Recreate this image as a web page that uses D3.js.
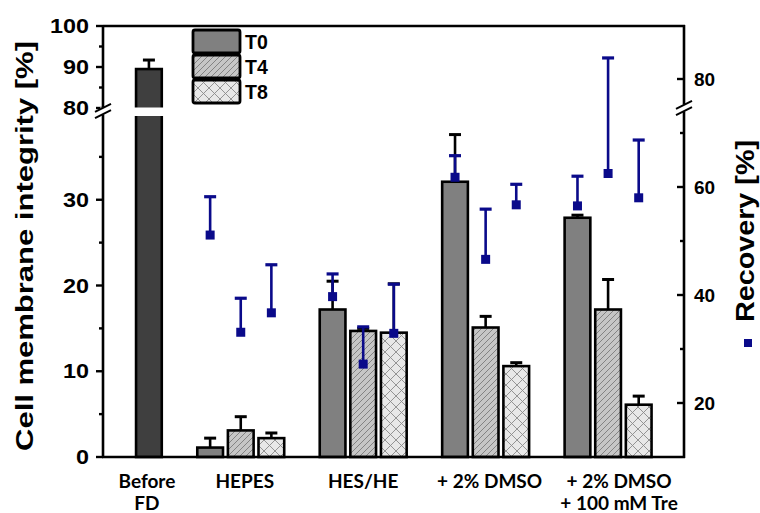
<!DOCTYPE html>
<html>
<head>
<meta charset="utf-8">
<script src="https://cdn.jsdelivr.net/npm/d3@7"></script>
<style>
  html, body { margin: 0; padding: 0; background: #fff; }
  svg { display: block; }
</style>
</head>
<body>
<svg id="chart" width="760" height="513"></svg>
<script>
// ---- data ----
const groups = ["Before FD", "HEPES", "HES/HE", "+ 2% DMSO", "+ 2% DMSO + 100 mM Tre"];
const groupLabelLines = [["Before", "FD"], ["HEPES"], ["HES/HE"], ["+ 2% DMSO"], ["+ 2% DMSO", "+ 100 mM Tre"]];
const timePoints = ["T0", "T4", "T8"];

// cell membrane integrity [%] (mean, upper error)
const integrityBefore = [89.5];
const integrityBeforeErr = [2.2];
const integrityT0 = [1.1, 17.2, 32.1, 27.9];
const integrityT4 = [3.1, 14.7, 15.1, 17.2];
const integrityT8 = [2.2, 14.5, 10.6, 6.1];
const integrityT0Err = [1.1, 3.3, 5.5, 0.3];
const integrityT4Err = [1.6, 0.3, 1.3, 3.5];
const integrityT8Err = [0.6, 5.7, 0.4, 1.0];

// recovery [%] (mean, upper error)
const recoveryT0 = [51.1, 39.7, 61.8, 56.5];
const recoveryT4 = [33.1, 27.2, 46.6, 62.5];
const recoveryT8 = [36.7, 32.9, 56.7, 58.0];
const recoveryT0Err = [7.1, 4.2, 4.0, 5.5];
const recoveryT4Err = [6.3, 6.9, 9.3, 21.4];
const recoveryT8Err = [8.9, 9.1, 3.8, 10.7];

const leftTicksLow = [0, 10, 20, 30];
const leftTicksHigh = [80, 90, 100];
const leftMinor = [5, 15, 25, 35, 85, 95];
const rightTicks = [20, 40, 60, 80];
const rightMinor = [30, 50, 70];

// ---- layout ----
const svg = d3.select("#chart");
const plot = { left: 103, right: 684, top: 26, bottom: 457 };
const navy = "#0a0a8a";

// bar slots: Before FD at 0, then groups of three with one empty slot between
const x = d3.scaleLinear().domain([-1.5, 17.48]).range([plot.left, plot.right]);
const slotW = x(1) - x(0);
const barW = slotW * 0.84;

// broken left axis: 0-40 below the break, 80-100 above it
const yL = d3.scaleLinear().domain([0, 40, 80, 100]).range([plot.bottom, 114, 108, plot.top]);
const yR = d3.scaleLinear().domain([10, 90]).range([plot.bottom, 25]);

// rows of bar records
const bars = [{ slot: 0, t: "B", v: integrityBefore[0], e: integrityBeforeErr[0] }];
const recov = [];
const series = [
  [integrityT0, integrityT0Err, recoveryT0, recoveryT0Err],
  [integrityT4, integrityT4Err, recoveryT4, recoveryT4Err],
  [integrityT8, integrityT8Err, recoveryT8, recoveryT8Err]
];
for (let g = 0; g < 4; g++) {
  for (let t = 0; t < 3; t++) {
    const slot = 2 + g * 4 + t;
    const [iv, ie, rv, re] = series[t];
    bars.push({ slot, t: timePoints[t], v: iv[g], e: ie[g] });
    recov.push({ slot, v: rv[g], e: re[g] });
  }
}

// ---- patterns ----
const defs = svg.append("defs");
const hatch = defs.append("pattern").attr("id", "hatchT4")
  .attr("patternUnits", "userSpaceOnUse").attr("width", 6).attr("height", 6);
hatch.append("rect").attr("width", 6).attr("height", 6).attr("fill", "#c6c6c6");
hatch.append("path").attr("d", "M-1,7 L7,-1 M-4,4 L4,-4 M2,10 L10,2")
  .attr("stroke", "#7c7c7c").attr("stroke-width", 0.9);

const cross = defs.append("pattern").attr("id", "crossT8")
  .attr("patternUnits", "userSpaceOnUse").attr("width", 11).attr("height", 11);
cross.append("rect").attr("width", 11).attr("height", 11).attr("fill", "#e8e8e8");
cross.append("path").attr("d", "M0,0 L11,11 M11,0 L0,11")
  .attr("stroke", "#8a8a8a").attr("stroke-width", 0.9);

const fillFor = { B: "#3f3f3f", T0: "#808080", T4: "url(#hatchT4)", T8: "url(#crossT8)" };

// ---- bars ----
const barG = svg.append("g");
barG.selectAll("rect").data(bars).join("rect")
  .attr("x", d => x(d.slot) - barW / 2)
  .attr("y", d => yL(d.v))
  .attr("width", barW)
  .attr("height", d => yL(0) - yL(d.v))
  .attr("fill", d => fillFor[d.t])
  .attr("stroke", "#000").attr("stroke-width", 2.6);

// gap in the Before FD bar at the axis break
svg.append("rect")
  .attr("x", x(0) - barW / 2 - 3).attr("width", barW + 6)
  .attr("y", 107.5).attr("height", 8.5).attr("fill", "#fff");

// black error bars
const errG = svg.append("g").attr("stroke", "#000").attr("stroke-width", 2.6);
bars.forEach(d => {
  const cx = x(d.slot), y0 = yL(d.v), y1 = yL(d.v + d.e);
  errG.append("line").attr("x1", cx).attr("x2", cx).attr("y1", y0).attr("y2", y1);
  errG.append("line").attr("x1", cx - 6).attr("x2", cx + 6).attr("y1", y1).attr("y2", y1)
    .attr("stroke-width", 3);
});

// recovery markers with upper error
const recG = svg.append("g");
recov.forEach(d => {
  const cx = x(d.slot), y0 = yR(d.v), y1 = yR(d.v + d.e);
  recG.append("line").attr("x1", cx).attr("x2", cx).attr("y1", y0).attr("y2", y1)
    .attr("stroke", navy).attr("stroke-width", 2.6);
  recG.append("line").attr("x1", cx - 6).attr("x2", cx + 6).attr("y1", y1).attr("y2", y1)
    .attr("stroke", navy).attr("stroke-width", 3.2);
  recG.append("rect").attr("x", cx - 4.5).attr("y", y0 - 4.5)
    .attr("width", 9).attr("height", 9).attr("fill", navy);
});

// ---- frame & axes ----
const axG = svg.append("g").attr("stroke", "#000").attr("fill", "none");
axG.append("line").attr("x1", plot.left).attr("x2", plot.right + 1)
  .attr("y1", plot.top).attr("y2", plot.top).attr("stroke-width", 2.6);
axG.append("line").attr("x1", plot.left - 1).attr("x2", plot.right + 1)
  .attr("y1", plot.bottom).attr("y2", plot.bottom).attr("stroke-width", 2.6);
axG.append("line").attr("x1", plot.left).attr("x2", plot.left)
  .attr("y1", plot.top - 1).attr("y2", plot.bottom).attr("stroke-width", 2.6);
axG.append("line").attr("x1", plot.right).attr("x2", plot.right)
  .attr("y1", plot.top - 1).attr("y2", plot.bottom + 1).attr("stroke-width", 2.6);

const tickFont = "'Liberation Sans', Arial, sans-serif";

// left ticks (outward)
[...leftTicksLow, ...leftTicksHigh].forEach(v => {
  axG.append("line").attr("x1", plot.left - 7).attr("x2", plot.left)
    .attr("y1", yL(v)).attr("y2", yL(v)).attr("stroke-width", 2.4);
  const s = String(v);
  svg.append("text").attr("x", plot.left - 14).attr("y", yL(v))
    .attr("dy", "0.36em").attr("text-anchor", "end")
    .attr("font-family", tickFont).attr("font-weight", "bold").attr("font-size", 20)
    .attr("textLength", s.length * 13).attr("lengthAdjust", "spacingAndGlyphs")
    .text(s);
});
leftMinor.forEach(v => {
  axG.append("line").attr("x1", plot.left - 4).attr("x2", plot.left)
    .attr("y1", yL(v)).attr("y2", yL(v)).attr("stroke-width", 2.4);
});

// right ticks (inward)
rightTicks.forEach(v => {
  axG.append("line").attr("x1", plot.right - 7).attr("x2", plot.right)
    .attr("y1", yR(v)).attr("y2", yR(v)).attr("stroke-width", 2.4);
  svg.append("text").attr("x", plot.right + 10).attr("y", yR(v))
    .attr("dy", "0.36em").attr("text-anchor", "start")
    .attr("font-family", tickFont).attr("font-weight", "bold").attr("font-size", 19)
    .text(v);
});
rightMinor.forEach(v => {
  axG.append("line").attr("x1", plot.right - 4).attr("x2", plot.right)
    .attr("y1", yR(v)).attr("y2", yR(v)).attr("stroke-width", 2.4);
});

// break marks on both vertical axes
function breakMark(cx, cy) {
  svg.append("rect").attr("x", cx - 3).attr("y", cy - 3.5).attr("width", 6).attr("height", 7).attr("fill", "#fff");
  [-3.2, 3.2].forEach(o => {
    svg.append("line").attr("x1", cx - 8).attr("x2", cx + 8)
      .attr("y1", cy + o + 4).attr("y2", cy + o - 4)
      .attr("stroke", "#000").attr("stroke-width", 2);
  });
}
breakMark(plot.left, 111);
breakMark(plot.right, 108);

// ---- category labels ----
const catFont = "Lato, 'Open Sans', sans-serif";
const labelSlots = [0, 3, 7, 11, 15];
const labelShift = [-2, 4, 0, 4, 11];
groupLabelLines.forEach((lines, i) => {
  const t = svg.append("text").attr("text-anchor", "middle")
    .attr("font-family", catFont).attr("font-weight", "bold").attr("font-size", 19)
    .attr("fill", "#000");
  lines.forEach((ln, j) => {
    t.append("tspan").attr("x", x(labelSlots[i]) + labelShift[i])
      .attr("y", 488 + j * 22).text(ln);
  });
});

// ---- axis titles ----
svg.append("text")
  .attr("transform", `translate(33, 246) rotate(-90)`)
  .attr("text-anchor", "middle")
  .attr("font-family", tickFont).attr("font-weight", "bold").attr("font-size", 24)
  .attr("textLength", 410).attr("lengthAdjust", "spacingAndGlyphs")
  .text("Cell membrane integrity [%]");

svg.append("text")
  .attr("transform", `translate(754, 231) rotate(-90)`)
  .attr("text-anchor", "middle")
  .attr("font-family", tickFont).attr("font-weight", "bold").attr("font-size", 25)
  .attr("textLength", 182).attr("lengthAdjust", "spacingAndGlyphs")
  .text("Recovery [%]");
svg.append("rect").attr("x", 744).attr("y", 339).attr("width", 8).attr("height", 8).attr("fill", navy);

// ---- legend ----
const legend = svg.append("g");
const legY = [30, 55, 80];
const legFill = [fillFor.T0, fillFor.T4, fillFor.T8];
timePoints.forEach((tp, i) => {
  legend.append("rect").attr("x", 193).attr("y", legY[i])
    .attr("width", 47).attr("height", 23).attr("rx", 2)
    .attr("fill", legFill[i]).attr("stroke", "#000").attr("stroke-width", 2.8);
  legend.append("text").attr("x", 245).attr("y", legY[i] + 11.5).attr("dy", "0.36em")
    .attr("font-family", tickFont).attr("font-weight", "bold").attr("font-size", 19.5)
    .text(tp);
});
</script>
</body>
</html>
